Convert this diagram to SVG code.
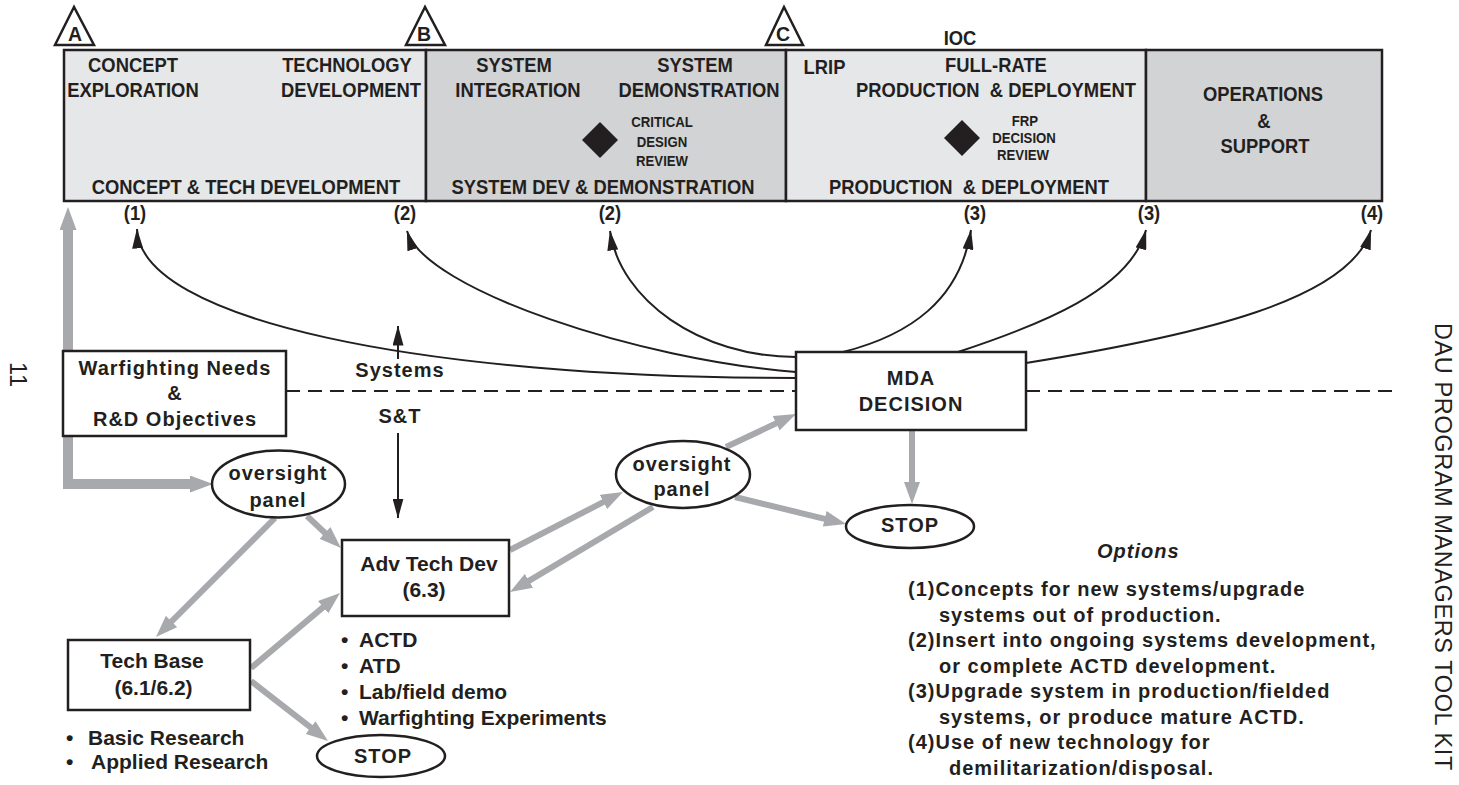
<svg xmlns="http://www.w3.org/2000/svg" width="1459" height="785" viewBox="0 0 1459 785">
  <defs>
    <style>
      text { font-family: "Liberation Sans", Arial, Helvetica, sans-serif; fill: #231f20; }
      .hd { font-size: 20px; font-weight: bold; text-anchor: middle;
            transform-box: fill-box; transform-origin: center; transform: scaleX(0.92); }
      .tri { font-size: 19.5px; font-weight: bold; text-anchor: middle; }
      .sm { font-size: 15px; font-weight: bold; text-anchor: middle;
            transform-box: fill-box; transform-origin: center; transform: scaleX(0.88); }
      .lb { font-size: 20px; font-weight: bold; text-anchor: middle; letter-spacing: 1px; }
      .cn { font-size: 21px; font-weight: bold; text-anchor: middle; }
      .bl { font-size: 21px; font-weight: bold; }
      .op { font-size: 20px; font-weight: bold; letter-spacing: 1px; }
      .pg { font-size: 23.5px; letter-spacing: 0.6px; }
      .phase { stroke: #231f20; stroke-width: 2.5; }
      .light { fill: #e6e7e8; }
      .dark { fill: #d1d3d4; }
      .box { fill: #ffffff; stroke: #231f20; stroke-width: 2.5; }
      .arc { fill: none; stroke: #231f20; stroke-width: 2; marker-end: url(#ah); }
      .gray { fill: none; stroke: #a7a9ac; stroke-width: 6; marker-end: url(#ahg); }
      .grayb { fill: none; stroke: #a7a9ac; stroke-width: 10; marker-end: url(#ahgb); }
      .dash { fill: none; stroke: #231f20; stroke-width: 2; stroke-dasharray: 14 8; }
    </style>
    <marker id="ah" markerUnits="userSpaceOnUse" markerWidth="20" markerHeight="11" refX="19.5" refY="5.5" orient="auto">
      <path d="M0,0 L20,5.5 L0,11 z" fill="#231f20"/>
    </marker>
    <marker id="ahg" markerUnits="userSpaceOnUse" markerWidth="22" markerHeight="16" refX="2" refY="8" orient="auto">
      <path d="M0,0 L22,8 L0,16 z" fill="#a7a9ac"/>
    </marker>
    <marker id="ahgb" markerUnits="userSpaceOnUse" markerWidth="23" markerHeight="17" refX="2" refY="8.5" orient="auto">
      <path d="M0,0 L23,8.5 L0,17 z" fill="#a7a9ac"/>
    </marker>
  </defs>

  <rect width="1459" height="785" fill="#ffffff"/>

  <!-- acquisition phase band -->
  <g id="phases">
    <rect class="phase light" x="64" y="50" width="362" height="151"/>
    <rect class="phase dark" x="426" y="50" width="360" height="151"/>
    <rect class="phase light" x="786" y="50" width="360" height="151"/>
    <rect class="phase dark" x="1146" y="50" width="236" height="151"/>

    <g id="milestone-a">
      <polygon points="74,7 55,45 94,45" fill="#ffffff" stroke="#231f20" stroke-width="2.5"/>
      <text class="tri" x="75" y="41">A</text>
    </g>
    <g id="milestone-b">
      <polygon points="425,7 406,45 445,45" fill="#ffffff" stroke="#231f20" stroke-width="2.5"/>
      <text class="tri" x="424" y="41">B</text>
    </g>
    <g id="milestone-c">
      <polygon points="784,7 766,45 803,45" fill="#ffffff" stroke="#231f20" stroke-width="2.5"/>
      <text class="tri" x="783" y="41">C</text>
    </g>

    <g id="concept-tech-dev">
      <text class="hd" x="133" y="72">CONCEPT</text>
      <text class="hd" x="133" y="97.5">EXPLORATION</text>
      <text class="hd" x="347" y="72">TECHNOLOGY</text>
      <text class="hd" x="351" y="97.5">DEVELOPMENT</text>
      <text class="hd" x="246" y="194">CONCEPT &amp; TECH DEVELOPMENT</text>
    </g>

    <g id="system-dev-demo">
      <text class="hd" x="514" y="72">SYSTEM</text>
      <text class="hd" x="518" y="97.5">INTEGRATION</text>
      <text class="hd" x="695" y="72">SYSTEM</text>
      <text class="hd" x="699" y="97.5">DEMONSTRATION</text>
      <polygon points="600,122 618,140 600,158 582,140" fill="#231f20"/>
      <text class="sm" x="662" y="127.5">CRITICAL</text>
      <text class="sm" x="662" y="147.5">DESIGN</text>
      <text class="sm" x="662" y="166">REVIEW</text>
      <text class="hd" x="603" y="194">SYSTEM DEV &amp; DEMONSTRATION</text>
    </g>

    <g id="production-deployment">
      <text class="hd" x="960" y="45">IOC</text>
      <text class="hd" x="824.5" y="74">LRIP</text>
      <text class="hd" x="996" y="72">FULL-RATE</text>
      <text class="hd" x="996" y="97.5" xml:space="preserve">PRODUCTION  &amp; DEPLOYMENT</text>
      <polygon points="962,120 980,138 962,156 944,138" fill="#231f20"/>
      <text class="sm" x="1025" y="126">FRP</text>
      <text class="sm" x="1024" y="143">DECISION</text>
      <text class="sm" x="1023" y="160">REVIEW</text>
      <text class="hd" x="969" y="194" xml:space="preserve">PRODUCTION  &amp; DEPLOYMENT</text>
    </g>

    <g id="operations-support">
      <text class="hd" x="1263" y="101">OPERATIONS</text>
      <text class="hd" x="1264" y="128">&amp;</text>
      <text class="hd" x="1265" y="153">SUPPORT</text>
    </g>

    <g id="option-labels">
      <text class="hd" x="135" y="220">(1)</text>
      <text class="hd" x="405" y="220">(2)</text>
      <text class="hd" x="610" y="220">(2)</text>
      <text class="hd" x="975" y="220">(3)</text>
      <text class="hd" x="1149" y="220">(3)</text>
      <text class="hd" x="1372" y="220">(4)</text>
    </g>
  </g>

  <!-- connectors -->
  <g id="connectors">
    <!-- S&T / Systems boundary -->
    <path class="dash" d="M286,391 H796"/>
    <path class="dash" d="M1026,391 H1398"/>

    <!-- MDA decision options -->
    <path class="arc" d="M796,378 C420,378 140,320 137,229"/>
    <path class="arc" d="M796,372 C640,360 425,290 407,231"/>
    <path class="arc" d="M796,357 C700,357 620,300 610,231"/>
    <path class="arc" d="M843,352 C910,335 960,300 971,230"/>
    <path class="arc" d="M958,352 C1040,325 1130,290 1146,230"/>
    <path class="arc" d="M1026,363 C1200,335 1350,300 1371,230"/>

    <!-- Systems / S&T direction arrows -->
    <path class="arc" d="M398,359 V326"/>
    <path class="arc" d="M398,433 V518"/>

    <!-- needs feed-back and feed-in -->
    <path class="grayb" d="M68,489 V228"/>
    <path class="grayb" d="M63,484 H192"/>

    <!-- technology transition flows -->
    <path class="gray" d="M307,516 L326.4,534.3"/>
    <path class="gray" d="M275,518 L170.1,622.9"/>
    <path class="gray" d="M251,668 L324.7,605.9"/>
    <path class="gray" d="M251,681 L312.2,728.7"/>
    <path class="gray" d="M510,550 L605.2,501.1"/>
    <path class="gray" d="M653,507 L527.2,581.8"/>
    <path class="gray" d="M726,447 L777.9,422.5"/>
    <path class="gray" d="M735,497 L826.6,519.3"/>
    <path class="gray" d="M912,430 V484"/>
  </g>

  <!-- nodes -->
  <g id="warfighting-needs">
    <rect class="box" x="63" y="351" width="223" height="85"/>
    <text class="lb" x="175" y="375">Warfighting Needs</text>
    <text class="lb" x="175" y="400">&amp;</text>
    <text class="lb" x="175" y="425.5">R&amp;D Objectives</text>
  </g>

  <g id="systems-st-labels">
    <text class="lb" x="400" y="377">Systems</text>
    <text class="lb" x="400" y="422.5">S&amp;T</text>
  </g>

  <g id="mda-decision">
    <rect class="box" x="796" y="352" width="230" height="78"/>
    <text class="lb" x="911" y="384.5">MDA</text>
    <text class="lb" x="911" y="410.5">DECISION</text>
  </g>

  <g id="oversight-panel-1">
    <ellipse class="box" cx="278.5" cy="484" rx="66.5" ry="33.5"/>
    <text class="lb" x="278" y="480">oversight</text>
    <text class="lb" x="278" y="506.5">panel</text>
  </g>

  <g id="oversight-panel-2">
    <ellipse class="box" cx="683" cy="474.5" rx="67" ry="33.5"/>
    <text class="lb" x="682" y="470.5">oversight</text>
    <text class="lb" x="682" y="496">panel</text>
  </g>

  <g id="stop-mda">
    <ellipse class="box" cx="910" cy="526.5" rx="64" ry="21.5"/>
    <text class="lb" x="910" y="532">STOP</text>
  </g>

  <g id="adv-tech-dev">
    <rect class="box" x="342" y="540" width="167" height="76"/>
    <text class="cn" x="429" y="570.5">Adv Tech Dev</text>
    <text class="cn" x="424" y="597">(6.3)</text>
    <text class="bl"><tspan x="341" y="647">•</tspan><tspan x="359" y="647">ACTD</tspan></text>
    <text class="bl"><tspan x="341" y="673">•</tspan><tspan x="359" y="673">ATD</tspan></text>
    <text class="bl"><tspan x="341" y="699">•</tspan><tspan x="359" y="699">Lab/field demo</tspan></text>
    <text class="bl"><tspan x="341" y="725">•</tspan><tspan x="359" y="725">Warfighting Experiments</tspan></text>
  </g>

  <g id="tech-base">
    <rect class="box" x="68" y="640" width="182" height="70"/>
    <text class="cn" x="152" y="668">Tech Base</text>
    <text class="cn" x="153.5" y="695">(6.1/6.2)</text>
    <text class="bl"><tspan x="66" y="745">•</tspan><tspan x="88" y="745">Basic Research</tspan></text>
    <text class="bl"><tspan x="66" y="769">•</tspan><tspan x="91" y="769">Applied Research</tspan></text>
  </g>

  <g id="stop-tech-base">
    <ellipse class="box" cx="381" cy="756" rx="64" ry="21"/>
    <text class="lb" x="383" y="763">STOP</text>
  </g>

  <!-- option key -->
  <g id="options">
    <text class="op" x="1097" y="558" font-style="italic">Options</text>
    <text class="op" x="908" y="596">(1)Concepts for new systems/upgrade</text>
    <text class="op" x="939" y="621.5">systems out of production.</text>
    <text class="op" x="908" y="647">(2)Insert into ongoing systems development,</text>
    <text class="op" x="939" y="672.5">or complete ACTD development.</text>
    <text class="op" x="908" y="698">(3)Upgrade system in production/fielded</text>
    <text class="op" x="939" y="723.5">systems, or produce mature ACTD.</text>
    <text class="op" x="908" y="749">(4)Use of new technology for</text>
    <text class="op" x="949" y="774.5">demilitarization/disposal.</text>
  </g>

  <!-- page margin text -->
  <text class="pg" transform="translate(10,362) rotate(90)">11</text>
  <text class="pg" transform="translate(1435,323) rotate(90)">DAU PROGRAM MANAGERS TOOL KIT</text>
</svg>
